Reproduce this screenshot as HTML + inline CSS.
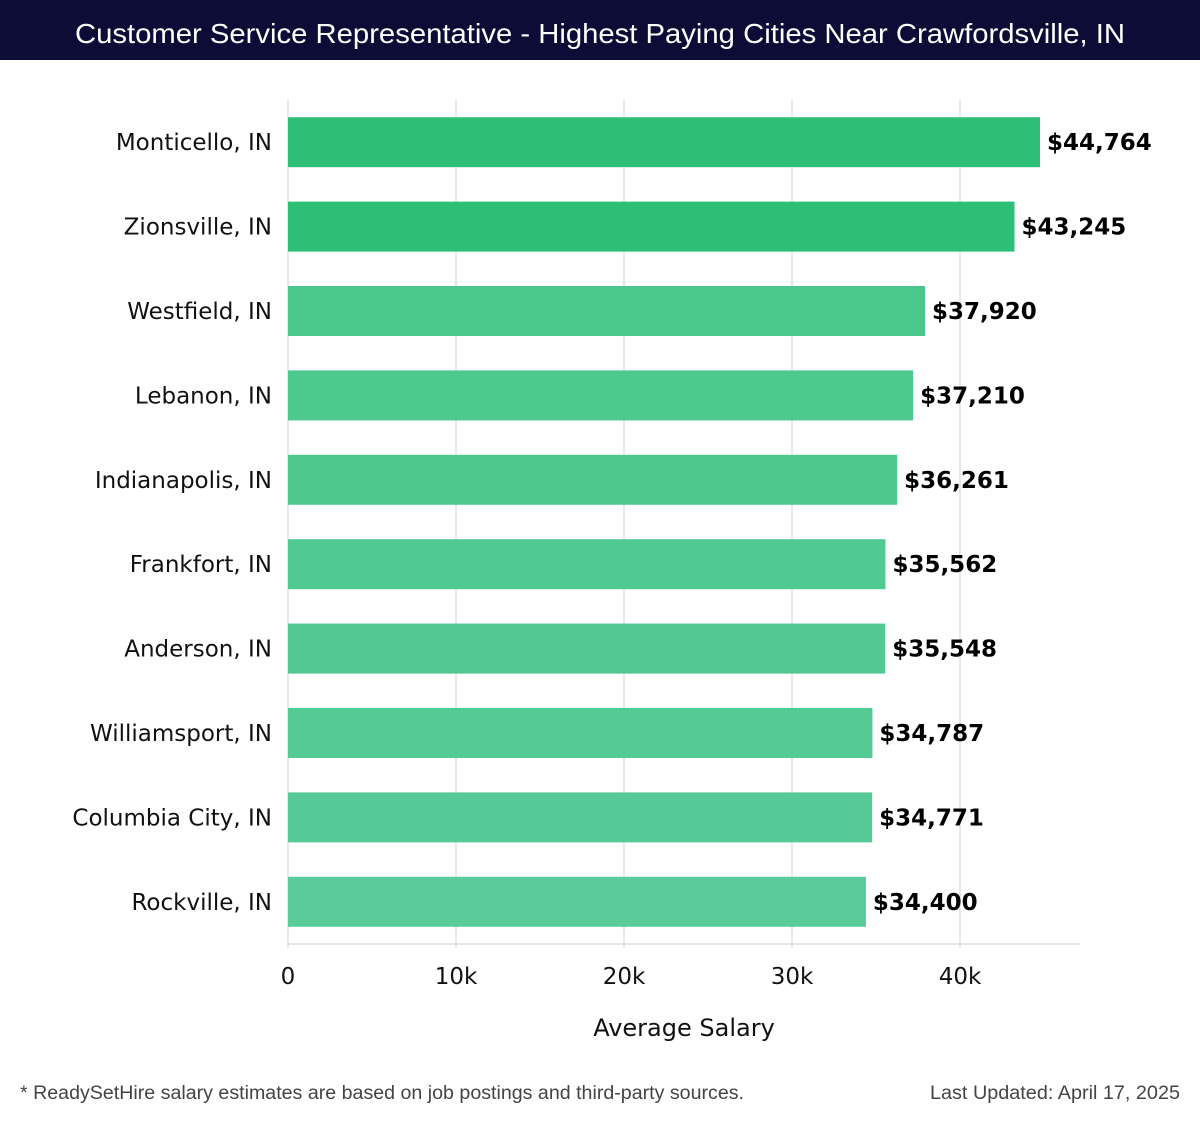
<!DOCTYPE html>
<html><head><meta charset="utf-8"><style>
body{margin:0;width:1200px;height:1120px;background:#fff;font-family:"DejaVu Sans","Liberation Sans",sans-serif;overflow:hidden}
</style></head><body>
<svg id="chart" width="1200" height="1120" xmlns="http://www.w3.org/2000/svg">
<rect x="0" y="0" width="1200" height="60" fill="#0c0c36"/>
<text x="600" y="43" text-anchor="middle" fill="#fff" font-size="28" textLength="1050" lengthAdjust="spacingAndGlyphs" font-family="Liberation Sans, sans-serif">Customer Service Representative - Highest Paying Cities Near Crawfordsville, IN</text>
<g id="grid"></g><g id="bars"></g><g id="axis"></g>
<text x="684" y="1036" text-anchor="middle" font-size="24" fill="#111">Average Salary</text>
<text x="20" y="1099" font-size="19" fill="#444" textLength="724" lengthAdjust="spacingAndGlyphs" font-family="Liberation Sans, sans-serif">* ReadySetHire salary estimates are based on job postings and third-party sources.</text>
<text x="1180" y="1099" text-anchor="end" font-size="19" fill="#444" textLength="250" lengthAdjust="spacingAndGlyphs" font-family="Liberation Sans, sans-serif">Last Updated: April 17, 2025</text>
</svg>
<script>
const cities=["Monticello, IN","Zionsville, IN","Westfield, IN","Lebanon, IN","Indianapolis, IN","Frankfort, IN","Anderson, IN","Williamsport, IN","Columbia City, IN","Rockville, IN"];
const salaries=[44764,43245,37920,37210,36261,35562,35548,34787,34771,34400];
const tickValues=[0,10000,20000,30000,40000];
const tickLabels=["0","10k","20k","30k","40k"];
const NS="http://www.w3.org/2000/svg";
const x0=288,pxPer=504/30000,plotTop=100,plotBottom=944,band=(plotBottom-plotTop)/cities.length,barH=50;
const xs=v=>x0+v*pxPer;
function mk(t,a,p){const e=document.createElementNS(NS,t);for(const k in a)e.setAttribute(k,a[k]);p.appendChild(e);return e;}
const grid=document.getElementById('grid'),bars=document.getElementById('bars'),axis=document.getElementById('axis');
tickValues.forEach((v,i)=>{
 const l=mk('line',{x1:xs(v),x2:xs(v),y1:plotTop,y2:plotBottom+4,stroke:'#e0e0e0','stroke-width':1.5},grid);
 
 
 const t=mk('text',{x:xs(v),y:984,'text-anchor':'middle','font-size':23,fill:'#111'},axis);
 t.textContent=tickLabels[i];
 
 
});
const al=mk('line',{x1:x0,x2:1080,y1:plotBottom,y2:plotBottom,stroke:'#ddd','stroke-width':1.5},axis);


function col(i){if(i<2)return '#2ebf77';const f=(i-2)/7;const a=[0x4b,0xc7,0x8d],b=[0x58,0xcb,0x98];return 'rgb('+a.map((c,k)=>Math.round(c+(b[k]-c)*f)).join(',')+')';}
cities.forEach((c,i)=>{
 const cy=plotTop+band*i+band/2;
 const r=mk('rect',{x:x0,y:cy-barH/2,width:xs(salaries[i])-x0,height:barH,fill:col(i)},bars);
 
 
 const lb=mk('text',{x:272,y:cy+8,'text-anchor':'end','font-size':23,fill:'#111'},bars);
 lb.textContent=c;
 
 
 const v=mk('text',{x:xs(salaries[i])+7,y:cy+8,'font-size':23,'font-weight':'bold',fill:'#000'},bars);
 v.textContent='$'+salaries[i].toLocaleString('en-US');
 
 
});
</script>
</body></html>
